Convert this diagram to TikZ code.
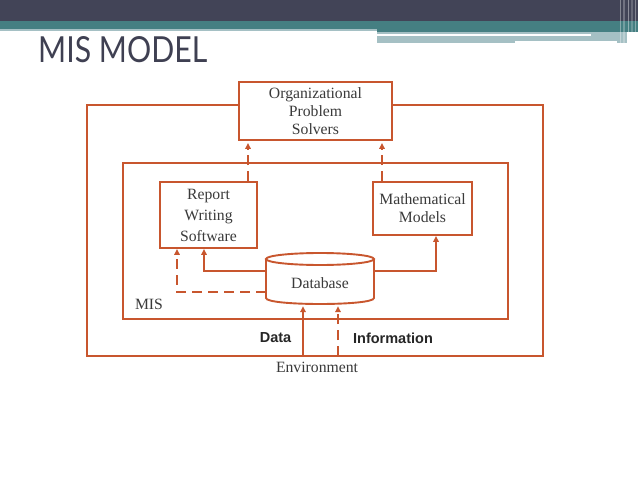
\documentclass[tikz,border=0pt]{standalone}
\usepackage{fontspec}
\setmainfont{Liberation Serif}
\newfontfamily\sansb{Liberation Sans}
\newfontfamily\titlefont{Lato}
\usetikzlibrary{arrows.meta}
\definecolor{dark}{HTML}{424457}
\definecolor{teal}{HTML}{457F82}
\definecolor{lteal}{HTML}{A5C0C4}
\definecolor{org}{HTML}{C8562E}
\definecolor{txt}{HTML}{3A3A3A}
\definecolor{ttl}{HTML}{3F4052}
\tikzset{
  ln/.style={draw=org, line width=1.9pt},
  arr/.style={ln, -{Triangle[length=6pt,width=5.5pt]}},
  dsh/.style={dash pattern=on 10pt off 6pt},
  bx/.style={ln, inner sep=0pt, align=center, text=txt, font=\fontsize{15.7}{18}\selectfont},
  lbl/.style={inner sep=0pt, text=txt, font=\fontsize{15.7}{18}\selectfont},
  blbl/.style={inner sep=0pt, text=black!85, font=\sansb\bfseries\fontsize{14.5}{17}\selectfont},
}
\begin{document}
\begin{tikzpicture}[x=1pt,y=-1pt]
\useasboundingbox (0,0) rectangle (638,479);
\fill[white] (0,0) rectangle (638,479);
% header
\fill[dark] (0,0) rectangle (638,21);
\fill[teal] (0,21) rectangle (638,29);
\fill[lteal] (0,29) rectangle (377,31);
\fill[teal] (377,29) rectangle (638,32);
\fill[lteal] (377,32) rectangle (627,43);
\fill[white] (377,34) rectangle (591,36);
\fill[white] (515,41) rectangle (617,43);
\foreach \a/\b/\o in {620/621/0.35,623/625/0.25,628/629/0.4,631/633/0.2,635/636/0.35}
  \fill[white, opacity=\o] (\a,0) rectangle (\b,43);
\node[anchor=base west, inner sep=0pt, text=ttl] (title) at (38,62)
  {\resizebox{169pt}{26pt}{\titlefont MIS MODEL}};
% boxes
\node[bx, minimum width=153pt, minimum height=58pt] (ops) at (315.5,111)
  {Organizational\\Problem\\Solvers};
\node[ln, inner sep=0pt, minimum width=385pt, minimum height=156pt] (misbox) at (315.5,241) {};
\node[bx, minimum width=97pt, minimum height=66pt, font=\fontsize{15.7}{21}\selectfont] (rws) at (208.5,215)
  {Report\\Writing\\Software};
\node[bx, minimum width=99pt, minimum height=53pt] (mm) at (422.5,208.5)
  {Mathematical\\Models};
% database cylinder
\draw[ln, fill=white] (266,259) -- (266,298) .. controls (266,306) and (374,306) .. (374,298) -- (374,259);
\draw[ln] (320,259) ellipse [x radius=54pt, y radius=6pt];
\node[lbl, minimum width=108pt, minimum height=44pt] (db) at (320,283) {Database};
% outer rectangle
\coordinate (obl) at (87,356);
\coordinate (otr) at (543,105);
\draw[ln] ([yshift=6pt]ops.west) -| (obl) -| (otr) -- ([yshift=6pt]ops.east);
% connectors
\draw[arr, dsh] ([xshift=39.5pt]rws.north) -- ([xshift=39.5pt,yshift=-2pt]rws.north |- ops.south);
\draw[arr, dsh] ([xshift=-40.5pt]mm.north) -- ([xshift=-40.5pt,yshift=-2pt]mm.north |- ops.south);
\draw[arr] ([yshift=12pt]db.west) -| ([xshift=-4.5pt]rws.south);
\draw[arr, dsh] ([yshift=-9pt]db.west) -| ([xshift=-31.5pt]rws.south);
\draw[arr] ([yshift=12pt]db.east) -| ([xshift=13.5pt]mm.south);
\coordinate (dataS) at (303,356);
\coordinate (infoS) at (338,356);
\draw[arr] (dataS) -- ([yshift=-1pt]dataS |- db.south);
\draw[arr, dsh] (infoS) -- ([yshift=-1pt]infoS |- db.south);
% labels
\node[lbl] (mis) at (149,304) {MIS};
\node[blbl] (data) at (275.5,338) {Data};
\node[blbl] (info) at (393,338) {Information};
\node[lbl] (env) at (317,367) {Environment};
\end{tikzpicture}
\end{document}
